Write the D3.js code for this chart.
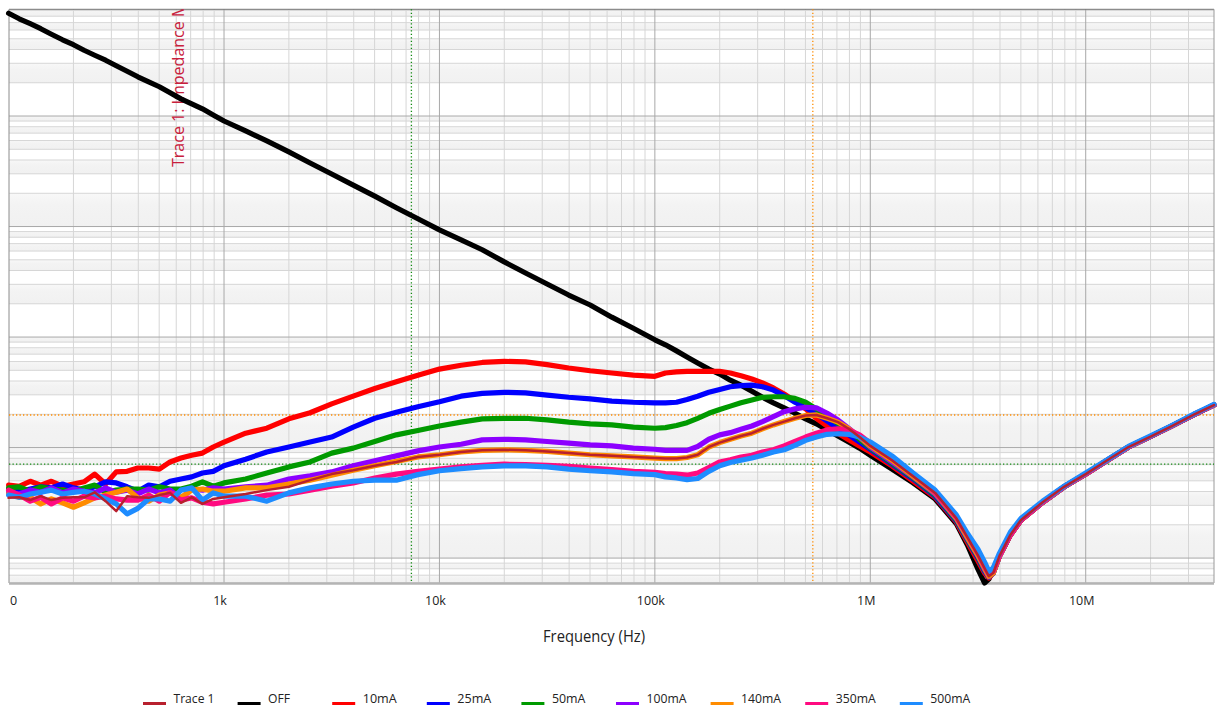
<!DOCTYPE html>
<html><head><meta charset="utf-8">
<script src="https://cdn.jsdelivr.net/npm/d3@7"></script>
<style>
html,body{margin:0;padding:0;background:#fff;}
svg{display:block;}
text{font-family:"Open Sans","Noto Sans",sans-serif;}
</style></head>
<body><svg id="chart" width="1218" height="708"></svg>
<script>
// ---------------- data ----------------
const xLimitsHz = [100, 3.94e7];
const yLimitsOhm = [0.00595, 924];
const xTickValues = [1e2, 1e3, 1e4, 1e5, 1e6, 1e7];
const xTickLabels = ["0", "1k", "10k", "100k", "1M", "10M"];
const xAxisTitle = "Frequency (Hz)";
const yAxisTitle = "Trace 1: Impedance Magnitude (Ohm)";
const cursorFreqHz = [7410, 541000];
const cursorOhm = [0.197, 0.0708];

const freqHz = [100,112,126,141,158,178,200,224,251,282,316,355,398,447,501,562,631,708,794,891,
1000,1260,1580,2000,2510,3160,3980,5010,6310,7940,10000,12600,15800,20000,25100,31600,39800,50100,63100,79400,100000,
112000,126000,141000,158000,178000,200000,224000,251000,282000,316000,355000,398000,447000,501000,562000,631000,708000,794000,891000,1000000,
1260000,1580000,2000000,2510000,2820000,3160000,3390000,3550000,3720000,3980000,4470000,5010000,6310000,7940000,10000000,
12600000,15800000,20000000,25100000,31600000,39400000];

const seriesNames = ["Trace 1","OFF","10mA","25mA","50mA","100mA","140mA","350mA","500mA"];

// impedance magnitude in dBOhm
const zOFF = [58.6,57.6,56.7,55.8,54.8,53.8,52.9,51.9,51.0,50.1,49.1,48.1,47.1,46.2,45.3,44.2,43.1,42.2,41.3,40.2,
39.1,37.3,35.5,33.5,31.5,29.5,27.5,25.5,23.4,21.4,19.4,17.6,15.8,13.6,11.6,9.6,7.6,5.8,3.6,1.6,-0.5,
-1.4,-2.5,-3.6,-4.7,-5.8,-6.7,-7.8,-8.7,-9.8,-10.9,-11.9,-12.8,-13.8,-14.8,-15.7,-16.8,-17.9,-19.0,-20.1,-21.4,
-23.9,-26.4,-29.3,-33.8,-37.6,-42.0,-44.5,-43.8,-42.0,-39.6,-35.8,-33.1,-29.9,-27.1,-24.8,
-22.3,-19.9,-18.0,-16.1,-14.1,-12.3];

const z10mA = [-26.8,-27.0,-26.1,-26.8,-26.1,-27.0,-26.6,-26.2,-24.8,-26.6,-24.4,-24.3,-23.7,-23.7,-23.9,-22.6,-21.9,-21.4,-21.0,-19.9,
-19.0,-17.4,-16.5,-14.8,-13.7,-12.1,-10.7,-9.3,-8.1,-6.9,-5.8,-5.1,-4.6,-4.4,-4.5,-5.0,-5.6,-6.1,-6.5,-6.9,-7.1,
-6.5,-6.3,-6.2,-6.2,-6.2,-6.2,-6.5,-7.0,-7.6,-8.3,-9.2,-10.3,-11.6,-13.0,-14.7,-16.1,-17.4,-18.6,-19.7,-20.8,
-23.3,-26.1,-29.0,-33.5,-37.1,-40.5,-42.7,-43.6,-42.7,-39.6,-35.8,-33.1,-29.9,-27.1,-24.8,
-22.3,-19.9,-18.0,-16.1,-14.1,-12.3];

const z25mA = [-27.5,-27.9,-27.5,-27.1,-27.3,-26.6,-27.3,-27.7,-27.1,-26.2,-26.4,-27.1,-27.9,-26.8,-27.1,-26.1,-25.7,-25.3,-24.6,-24.3,
-23.3,-22.1,-20.8,-19.9,-19.0,-18.1,-16.3,-14.7,-13.6,-12.6,-11.7,-10.7,-10.2,-10.0,-10.1,-10.5,-10.9,-11.2,-11.6,-11.8,-11.9,
-11.9,-11.8,-11.3,-10.7,-10.0,-9.5,-9.0,-8.8,-8.7,-9.0,-9.6,-10.6,-11.8,-12.8,-13.9,-15.2,-16.5,-17.7,-19.0,-20.3,
-23.0,-25.7,-28.8,-33.3,-36.7,-40.0,-42.4,-43.4,-42.7,-39.6,-35.8,-33.1,-29.9,-27.1,-24.8,
-22.3,-19.9,-18.0,-16.1,-14.1,-12.3];

const z50mA = [-27.3,-27.1,-27.9,-27.1,-27.5,-27.7,-27.9,-27.3,-26.8,-28.1,-27.7,-27.5,-27.5,-27.7,-27.1,-27.5,-27.5,-27.0,-26.2,-27.0,
-26.4,-25.7,-24.6,-23.5,-22.6,-21.0,-20.1,-18.9,-17.7,-16.9,-16.1,-15.4,-14.8,-14.7,-14.7,-15.0,-15.4,-15.7,-15.9,-16.3,-16.5,
-16.4,-16.0,-15.5,-14.7,-13.8,-13.1,-12.5,-11.9,-11.4,-10.9,-10.8,-10.8,-11.1,-11.8,-13.0,-14.3,-15.6,-16.8,-18.5,-20.1,
-22.8,-25.5,-28.6,-33.1,-36.6,-39.8,-42.2,-43.4,-42.7,-39.6,-35.8,-33.1,-29.9,-27.1,-24.8,
-22.3,-19.9,-18.0,-16.1,-14.1,-12.3];

const z100mA = [-28.1,-28.4,-27.7,-28.1,-27.3,-28.2,-27.5,-27.9,-28.2,-27.3,-28.1,-27.7,-28.4,-27.5,-28.2,-27.7,-29.3,-27.5,-27.7,-27.3,
-27.5,-27.1,-26.8,-25.7,-25.1,-24.4,-23.3,-22.4,-21.5,-20.6,-19.9,-19.4,-18.6,-18.5,-18.6,-18.9,-19.2,-19.5,-19.7,-20.1,-20.3,
-20.5,-20.5,-20.5,-19.8,-18.5,-17.7,-17.3,-16.7,-16.1,-15.3,-14.4,-13.5,-13.0,-12.7,-12.8,-13.8,-15.0,-16.5,-18.1,-19.9,
-22.6,-25.3,-28.4,-32.9,-36.4,-39.6,-42.0,-43.4,-42.7,-39.6,-35.8,-33.1,-29.9,-27.1,-24.8,
-22.3,-19.9,-18.0,-16.1,-14.1,-12.3];

const z140mA = [-28.4,-29.0,-29.0,-30.2,-29.3,-30.0,-30.8,-30.0,-29.1,-28.6,-28.1,-27.5,-29.1,-29.7,-28.6,-28.2,-29.0,-27.7,-27.5,-27.9,
-27.9,-27.3,-27.3,-26.6,-25.9,-25.0,-24.1,-23.3,-22.5,-21.7,-21.3,-20.8,-20.5,-20.4,-20.5,-20.7,-21.0,-21.3,-21.5,-21.7,-21.9,
-22.0,-22.0,-21.8,-21.3,-19.9,-19.1,-18.5,-17.9,-17.4,-16.6,-15.9,-15.3,-14.7,-14.2,-14.1,-14.7,-15.4,-16.6,-18.1,-19.7,
-22.3,-25.2,-28.2,-32.8,-36.2,-39.5,-41.8,-43.3,-42.7,-39.6,-35.8,-33.1,-29.9,-27.1,-24.8,
-22.3,-19.9,-18.0,-16.1,-14.1,-12.3];

const z350mA = [-27.7,-28.6,-29.7,-29.0,-30.2,-29.1,-29.7,-28.8,-29.1,-28.8,-29.3,-29.5,-29.5,-28.6,-29.7,-28.1,-29.5,-29.1,-29.9,-30.2,
-29.9,-29.3,-28.6,-28.4,-27.7,-27.0,-26.4,-25.5,-24.8,-24.3,-23.9,-23.5,-23.2,-23.0,-23.1,-23.2,-23.4,-23.7,-24.0,-24.3,-24.5,
-24.7,-24.8,-25.0,-24.6,-23.6,-22.6,-22.2,-21.7,-21.4,-20.8,-20.4,-19.7,-18.9,-18.1,-17.4,-16.8,-16.6,-16.8,-17.7,-19.2,
-21.9,-24.8,-28.1,-32.6,-35.8,-39.1,-41.5,-42.9,-42.4,-39.6,-35.8,-33.1,-29.9,-27.1,-24.8,
-22.3,-19.9,-18.0,-16.1,-14.1,-12.3];

const z500mA = [-28.6,-29.0,-28.4,-28.1,-27.7,-28.4,-28.1,-27.9,-28.4,-29.3,-30.2,-32.0,-31.0,-29.3,-29.3,-29.7,-27.7,-27.3,-29.5,-28.2,
-28.8,-28.8,-29.7,-28.2,-27.3,-26.6,-26.1,-25.9,-25.9,-24.9,-24.2,-23.8,-23.5,-23.3,-23.3,-23.5,-23.9,-24.2,-24.4,-24.7,-24.9,
-25.3,-25.5,-25.8,-25.6,-24.3,-23.3,-22.7,-22.3,-21.9,-21.4,-20.8,-20.4,-19.6,-18.7,-18.1,-17.6,-17.5,-17.6,-18.1,-19.0,
-21.5,-24.6,-27.7,-32.2,-35.5,-38.4,-40.7,-42.4,-41.8,-39.1,-35.3,-32.8,-29.7,-27.0,-24.6,
-22.2,-19.8,-17.9,-16.0,-14.0,-12.2];

const zTrace1 = [-29.1,-29.0,-29.5,-28.8,-29.5,-29.1,-29.0,-29.0,-28.1,-29.7,-31.5,-28.8,-29.0,-29.1,-28.6,-28.2,-30.0,-29.0,-30.2,-29.3,
-29.0,-28.4,-27.7,-27.1,-25.9,-24.8,-24.1,-23.3,-22.6,-21.7,-21.3,-20.8,-20.5,-20.4,-20.5,-20.7,-21.0,-21.3,-21.5,-21.7,-21.9,
-22.0,-22.0,-21.8,-21.3,-19.9,-19.1,-18.5,-17.9,-17.4,-16.6,-15.9,-15.3,-14.7,-14.2,-14.1,-14.7,-15.4,-16.6,-18.1,-19.7,
-22.3,-25.2,-28.2,-32.8,-36.2,-39.5,-41.8,-43.3,-42.7,-39.6,-35.8,-33.1,-29.9,-27.1,-24.8,
-22.3,-19.9,-18.0,-16.1,-14.1,-12.3];

// ---------------- styles ----------------
const seriesColors = {"Trace 1":"#b8202e","OFF":"#000000","10mA":"#ff0000","25mA":"#0000ff","50mA":"#009a00",
  "100mA":"#8c00ff","140mA":"#ff8c00","350mA":"#ff0a80","500mA":"#1e8cff"};
const seriesWidths = {"Trace 1":2.5};
const legendTextWidths = {"Trace 1":41,"OFF":22,"10mA":34,"25mA":34,"50mA":33.5,"100mA":40,"140mA":40,"350mA":40,"500mA":40};
const cursorColors = ["#138a13", "#ff8c00"];

const P = {left: 9, right: 1214, top: 9.3, bottom: 583};
const svg = d3.select("#chart");

const x = d3.scaleLog().domain(xLimitsHz).range([8.6, P.right]);
const y = d3.scaleLog().domain(yLimitsOhm).range([P.bottom, P.top]);
const toOhm = db => Math.pow(10, db / 20);

const seriesData = {"Trace 1": zTrace1, "OFF": zOFF, "10mA": z10mA, "25mA": z25mA, "50mA": z50mA,
  "100mA": z100mA, "140mA": z140mA, "350mA": z350mA, "500mA": z500mA};

const defs = svg.append("defs");
defs.append("clipPath").attr("id","plotclip")
  .append("rect").attr("x",P.left).attr("y",P.top).attr("width",P.right-P.left).attr("height",P.bottom-P.top);
const grad = defs.append("linearGradient").attr("id","bandgrad").attr("x1",0).attr("x2",0).attr("y1",0).attr("y2",1);
grad.append("stop").attr("offset","0%").attr("stop-color","#f8f8f8");
grad.append("stop").attr("offset","35%").attr("stop-color","#f3f3f3");
grad.append("stop").attr("offset","100%").attr("stop-color","#f1f1f1");

// background bands (alternating between log grid lines)
const bandStartGray = {"2":0, "1":1, "0":0, "-1":1, "-2":1, "-3":0};
const gBands = svg.append("g").attr("clip-path","url(#plotclip)");
for (let k = -3; k <= 2; k++) {
  for (let m = 1; m <= 9; m++) {
    const lo = m * Math.pow(10, k), hi = (m + 1) * Math.pow(10, k);
    const a = Math.max(lo, yLimitsOhm[0]), b = Math.min(hi, yLimitsOhm[1]);
    if (b <= a) continue;
    const gray = ((m - 1) + bandStartGray[String(k)]) % 2 === 1;
    if (!gray) continue;
    gBands.append("rect").attr("x",P.left).attr("width",P.right-P.left)
      .attr("y", y(b)).attr("height", y(a) - y(b)).attr("fill","url(#bandgrad)");
  }
}

// grid
const gGrid = svg.append("g");
const xGrid = [];
for (let k = 2; k <= 7; k++) for (let m = 1; m <= 9; m++) {
  const v = m * Math.pow(10, k);
  if (v > xLimitsHz[0] && v < xLimitsHz[1]) xGrid.push({v, major: m === 1});
}
const yGrid = [];
for (let k = -3; k <= 2; k++) for (let m = 1; m <= 9; m++) {
  const v = m * Math.pow(10, k);
  if (v > yLimitsOhm[0] && v < yLimitsOhm[1]) yGrid.push({v, major: m === 1});
}
gGrid.selectAll("line.gx").data(xGrid.filter(d=>!d.major)).join("line")
  .attr("x1",d=>x(d.v)).attr("x2",d=>x(d.v)).attr("y1",P.top).attr("y2",P.bottom)
  .attr("stroke","#d6d6d6").attr("stroke-width",1);
gGrid.selectAll("line.gy").data(yGrid.filter(d=>!d.major)).join("line")
  .attr("y1",d=>y(d.v)).attr("y2",d=>y(d.v)).attr("x1",P.left).attr("x2",P.right)
  .attr("stroke","#d6d6d6").attr("stroke-width",1);
gGrid.selectAll("line.gxm").data(xGrid.filter(d=>d.major)).join("line")
  .attr("x1",d=>x(d.v)).attr("x2",d=>x(d.v)).attr("y1",P.top).attr("y2",P.bottom)
  .attr("stroke","#a8a8a8").attr("stroke-width",1);
gGrid.selectAll("line.gym").data(yGrid.filter(d=>d.major)).join("line")
  .attr("y1",d=>y(d.v)).attr("y2",d=>y(d.v)).attr("x1",P.left).attr("x2",P.right)
  .attr("stroke","#a8a8a8").attr("stroke-width",1);

// frame
svg.append("line").attr("x1",P.left).attr("x2",P.right).attr("y1",P.top).attr("y2",P.top).attr("stroke","#707070").attr("stroke-width",1);
svg.append("line").attr("x1",P.left).attr("x2",P.left).attr("y1",P.top).attr("y2",P.bottom).attr("stroke","#8c8c8c").attr("stroke-width",1);
svg.append("line").attr("x1",P.right).attr("x2",P.right).attr("y1",P.top).attr("y2",P.bottom).attr("stroke","#9a9a9a").attr("stroke-width",1);
svg.append("line").attr("x1",P.left).attr("x2",P.right).attr("y1",P.bottom+0.5).attr("y2",P.bottom+0.5).attr("stroke","#b4b4b4").attr("stroke-width",2.5);

// y title (clipped inside plot, as in the reference)
svg.append("g").attr("clip-path","url(#plotclip)")
  .append("text").attr("transform","translate(183.5,167) rotate(-90)")
  .attr("font-size",16).attr("fill","#c8203c").text(yAxisTitle);

// cursors
const gCur = svg.append("g");
cursorFreqHz.forEach((f,i)=>{
  gCur.append("line").attr("x1",x(f)).attr("x2",x(f)).attr("y1",P.top).attr("y2",P.bottom)
    .attr("stroke",cursorColors[i]).attr("stroke-width",1.3).attr("stroke-dasharray","1.3,2.2");
});
cursorOhm.forEach((v,i)=>{
  gCur.append("line").attr("y1",y(v)).attr("y2",y(v)).attr("x1",P.left).attr("x2",P.right)
    .attr("stroke",cursorColors[1-i]).attr("stroke-width",1.3).attr("stroke-dasharray","1.3,2.2");
});

// series
const line = d3.line().x((d,i)=>x(freqHz[i])).y(d=>y(toOhm(d))).curve(d3.curveLinear);
const drawOrder = ["OFF","10mA","25mA","50mA","100mA","140mA","350mA","500mA","Trace 1"];
const gLines = svg.append("g");
drawOrder.forEach(name=>{
  gLines.append("path").datum(seriesData[name]).attr("d",line)
    .attr("fill","none").attr("stroke",seriesColors[name])
    .attr("stroke-width",seriesWidths[name] || 5.2)
    .attr("stroke-linejoin","round").attr("stroke-linecap","round");
});

// x tick labels
const gAx = svg.append("g");
xTickValues.forEach((v,i)=>{
  const first = i === 0;
  gAx.append("text").attr("x", first ? 10 : x(v) - 4).attr("y", 605)
    .attr("text-anchor", first ? "start" : "middle").attr("font-size",12.5).attr("fill","#222")
    .text(xTickLabels[i]);
});
gAx.append("text").attr("x",543).attr("y",642)
  .attr("font-size",16).attr("fill","#222")
  .attr("textLength",102).attr("lengthAdjust","spacingAndGlyphs").text(xAxisTitle);

// legend
const gLeg = svg.append("g");
seriesNames.forEach((name,i)=>{
  const x0 = 143 + i * 94.6;
  gLeg.append("line").attr("x1",x0).attr("x2",x0+23).attr("y1",703.5).attr("y2",703.5)
    .attr("stroke",seriesColors[name]).attr("stroke-width",3);
  gLeg.append("text").attr("x",x0+30.5).attr("y",703).attr("font-size",13).attr("fill","#222")
    .attr("textLength",legendTextWidths[name]).attr("lengthAdjust","spacingAndGlyphs").text(name);
});
</script></body></html>
